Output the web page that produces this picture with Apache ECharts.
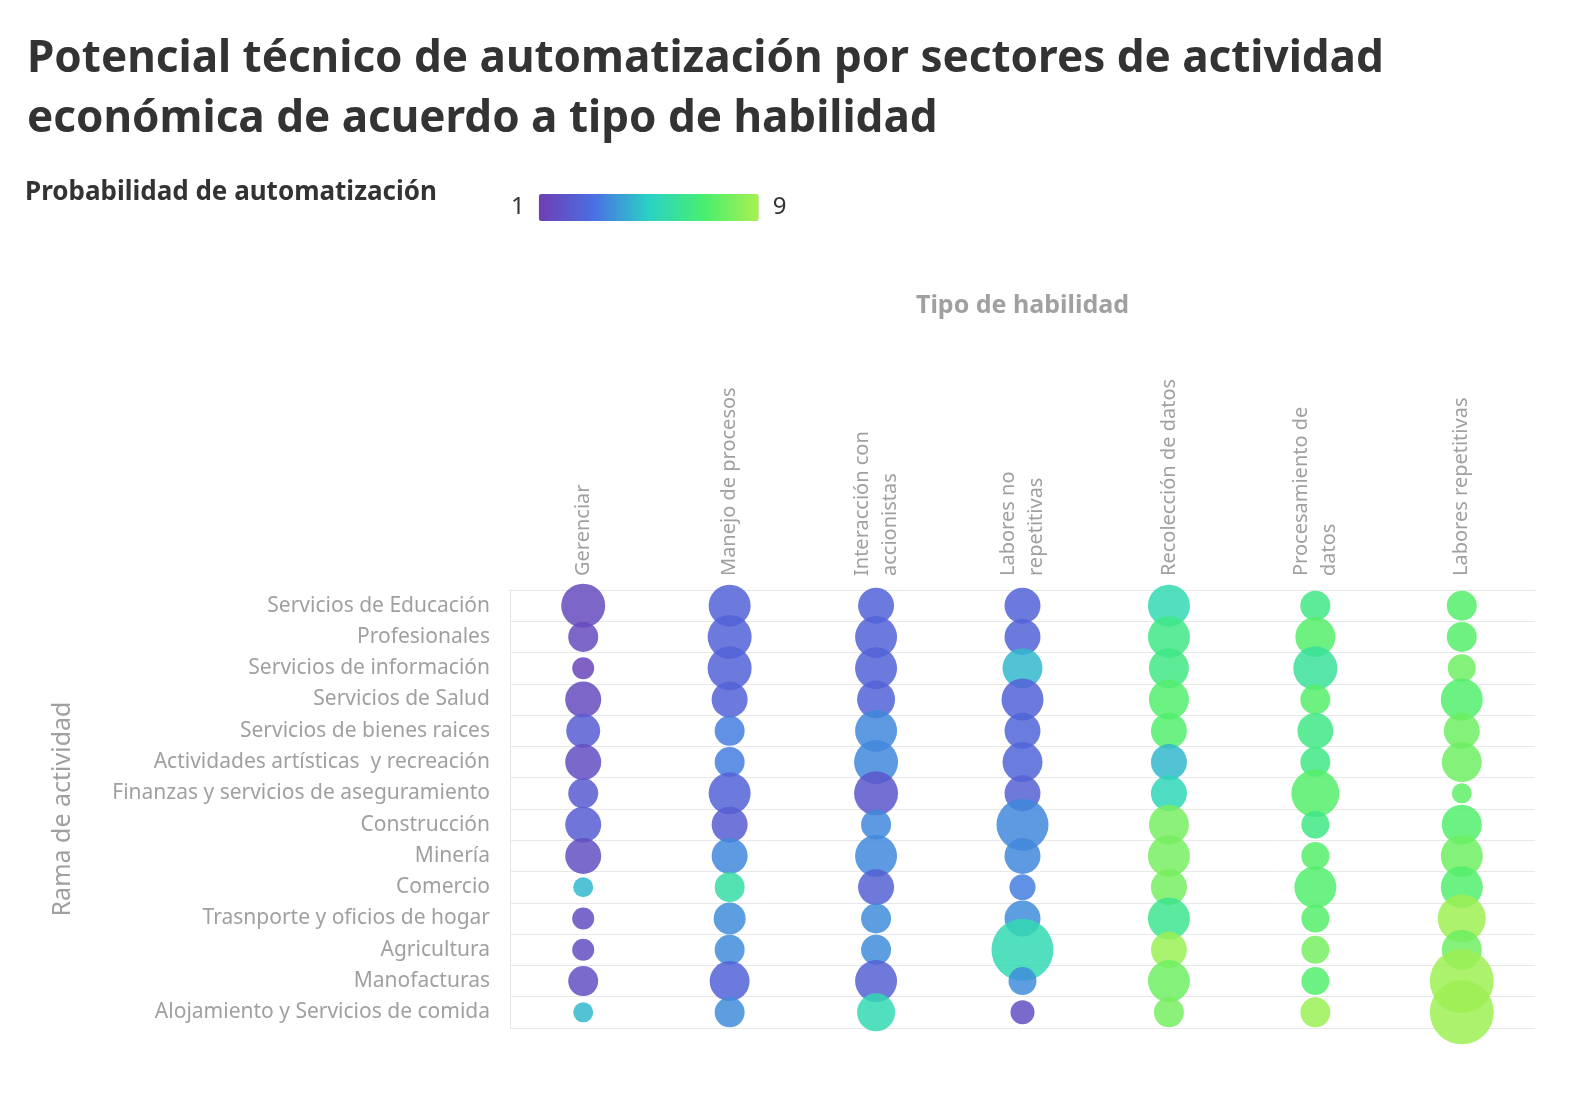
<!DOCTYPE html><html><head><meta charset="utf-8"><script src="https://cdn.jsdelivr.net/npm/echarts@6/dist/echarts.min.js"></script>
<style>html,body{margin:0;padding:0;background:#fff}#c{width:1592px;height:1095px}</style></head><body><div id="c"></div><script>
const skills=['Gerenciar','Manejo de procesos','Interacción con\naccionistas','Labores no\nrepetitivas','Recolección de datos','Procesamiento de\ndatos','Labores repetitivas'];
const sectors=['Servicios de Educación','Profesionales','Servicios de información','Servicios de Salud','Servicios de bienes raices','Actividades artísticas  y recreación','Finanzas y servicios de aseguramiento','Construcción','Minería','Comercio','Trasnporte y oficios de hogar','Agricultura','Manofacturas','Alojamiento y Servicios de comida'];
// probability (color) per sector, per skill
const prob=[
[1.5,2.5,2.5,2.5,5.5,6.5,7.3],
[1.5,2.5,2.5,2.5,6.5,7.3,7.3],
[1.3,2.5,2.5,4.5,6.5,6.0,7.8],
[1.5,2.5,2.5,2.5,7.2,7.3,7.2],
[2.3,3.3,3.5,2.6,7.2,6.5,7.8],
[1.6,3.3,3.5,2.6,4.5,6.5,7.8],
[2.2,2.5,2.0,2.4,5.3,7.3,7.5],
[2.3,2.3,3.5,3.5,8.0,6.5,7.2],
[1.7,3.5,3.5,3.5,8.0,7.3,7.8],
[4.5,5.8,2.4,3.3,8.0,7.2,7.2],
[1.6,3.6,3.6,3.6,6.3,7.3,8.8],
[1.6,3.6,3.6,5.5,8.7,8.0,7.8],
[1.7,2.5,2.4,3.6,7.8,7.2,8.8],
[4.5,3.6,5.5,1.7,8.0,8.7,8.8]];
// relative size per sector, per skill
const size=[
[44,42,36,36,42,30,30],
[30,44,42,36,42,40,30],
[22,44,42,40,40,44,28],
[36,36,38,42,40,30,42],
[34,30,42,36,36,36,36],
[36,30,44,40,36,30,40],
[30,42,44,36,36,48,20],
[36,36,30,52,40,28,40],
[36,36,42,36,42,28,42],
[20,30,36,26,36,42,42],
[22,32,30,36,42,28,48],
[22,30,30,62,36,28,40],
[30,40,42,28,42,28,64],
[20,30,38,24,30,30,64]];
const data=[];
sectors.forEach((s,i)=>skills.forEach((k,j)=>data.push([j,i,prob[i][j],size[i][j]])));
const gray='#a0a0a0';
const ch=echarts.init(document.getElementById('c'));
ch.setOption({
 textStyle:{fontFamily:'Noto Sans'},
 title:{text:'Potencial técnico de automatización por sectores de actividad\neconómica de acuerdo a tipo de habilidad',left:22,top:24,textStyle:{fontSize:44,fontWeight:'bold',color:'#333',lineHeight:60}},
 graphic:[{type:'text',left:25,top:180,style:{text:'Probabilidad de automatización',font:'bold 26px "Noto Sans"',fill:'#333'}}],
 visualMap:{type:'continuous',min:1,max:9,dimension:2,orient:'horizontal',left:496,top:179,itemWidth:27,itemHeight:220,text:['9','1'],textGap:14,calculable:false,textStyle:{fontSize:24,color:'#333'},
  inRange:{color:['#6e3fb2','#4a6fe3','#2ad2c6','#48ee70','#a8f050']}},
 grid:{left:510,right:57,top:590,bottom:67,outerBoundsMode:'none',containLabel:false},
 xAxis:{type:'category',data:skills,position:'top',axisTick:{show:false},axisLine:{show:true,lineStyle:{color:'#e5e5e5'}},
  axisLabel:{rotate:-90,fontSize:20,color:gray,lineHeight:28,margin:14},
  name:'Tipo de habilidad',nameLocation:'middle',nameGap:272,nameTextStyle:{fontSize:25,fontWeight:'bold',color:gray}},
 yAxis:{type:'category',data:sectors,inverse:true,axisTick:{show:false},axisLine:{show:true,lineStyle:{color:'#e5e5e5'}},
  splitLine:{show:true,lineStyle:{color:'#e8e8e8'}},axisLabel:{fontSize:21,color:gray,margin:20},
  name:'Rama de actividad',nameLocation:'middle',nameGap:435,nameTextStyle:{fontSize:25,color:gray}},
 series:[{type:'scatter',data:data,symbolSize:d=>d[3],itemStyle:{opacity:0.85}}]
});
</script></body></html>
